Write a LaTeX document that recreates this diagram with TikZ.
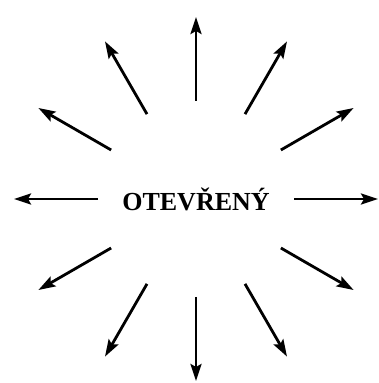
\documentclass[tikz,border=0pt]{standalone}
\usepackage{fontspec}
\setmainfont{Liberation Serif}
\usetikzlibrary{arrows.meta}
\tikzset{
  hublabel/.style = {font=\bfseries\fontsize{13}{15}\selectfont, inner sep=2pt},
  ray/.style      = {-{Stealth[length=8.5pt, width=5.5pt, inset=1.5pt]}, line width=1.4pt},
}
\begin{document}
\begin{tikzpicture}[x=0.5pt, y=0.5pt]
        \useasboundingbox (-196,-184) rectangle (182,199);
        \node[hublabel] (hub) at (0,0) {OTEVŘENÝ};
        \foreach \a in {0,30,...,330} {
            \coordinate (in\a)  at (\a:98);
            \coordinate (out\a) at (\a:182);
            \draw[ray] (in\a) -- (out\a);
        }
    \end{tikzpicture}
\end{document}
